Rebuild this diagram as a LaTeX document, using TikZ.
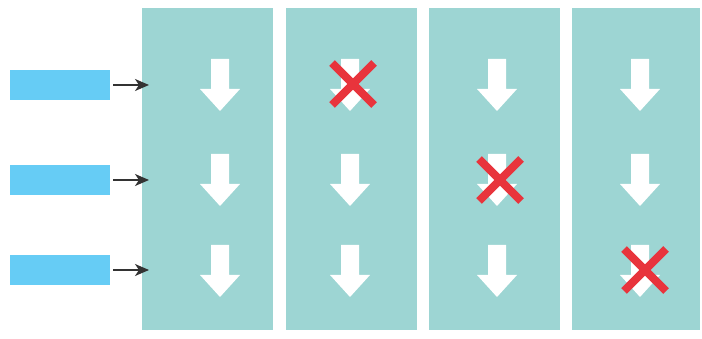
\documentclass[tikz,border=0pt]{standalone}
\usetikzlibrary{arrows.meta}
\definecolor{teal}{HTML}{9DD5D3}
\definecolor{barblue}{HTML}{66CCF5}
\definecolor{xred}{HTML}{E8343C}
\definecolor{arrgray}{HTML}{333333}
\tikzset{
  colbox/.style={fill=teal, draw=none, minimum width=131pt, minimum height=322pt, inner sep=0pt, outer sep=0pt},
  barbox/.style={fill=barblue, draw=none, minimum width=100pt, minimum height=30pt, inner sep=0pt, outer sep=0pt},
  feed/.style={arrgray, line width=1.6pt, -{Stealth[length=14pt,width=12pt,inset=4pt]}},
  downarrow/.pic={\fill[white] (-9,-26) -- (9,-26) -- (9,4) -- (20,4) -- (0,26) -- (-20,4) -- (-9,4) -- cycle;},
  crossmark/.pic={\draw[xred, line width=8pt] (-21,-21) -- (21,21) (-21,21) -- (21,-21);}
}
\begin{document}
\begin{tikzpicture}[x=1pt,y=-1pt]
\useasboundingbox (0,0) rectangle (702,339);
\fill[white] (0,0) rectangle (702,339);
% columns
\node[colbox] (c1) at (207,169) {};
\node[colbox] (c2) at (351,169) {};
\node[colbox] (c3) at (494.5,169) {};
\node[colbox, minimum width=128pt] (c4) at (636,169) {};
% bars
\node[barbox] (b1) at (60,85) {};
\node[barbox] (b2) at (60,180) {};
\node[barbox] (b3) at (60,270) {};
\coordinate (t1) at (149,85);
\coordinate (t2) at (149,180);
\coordinate (t3) at (149,270);
\draw[feed] ([xshift=3pt]b1.east) -- (t1);
\draw[feed] ([xshift=3pt]b2.east) -- (t2);
\draw[feed] ([xshift=3pt]b3.east) -- (t3);
% down arrows
\foreach \x in {220,350,497,640}{
  \foreach \y in {85,180,271}{
    \pic at (\x,\y) {downarrow};
  }
}
% crosses
\pic at (353,84) {crossmark};
\pic at (500,180) {crossmark};
\pic at (645,270) {crossmark};
\end{tikzpicture}
\end{document}
